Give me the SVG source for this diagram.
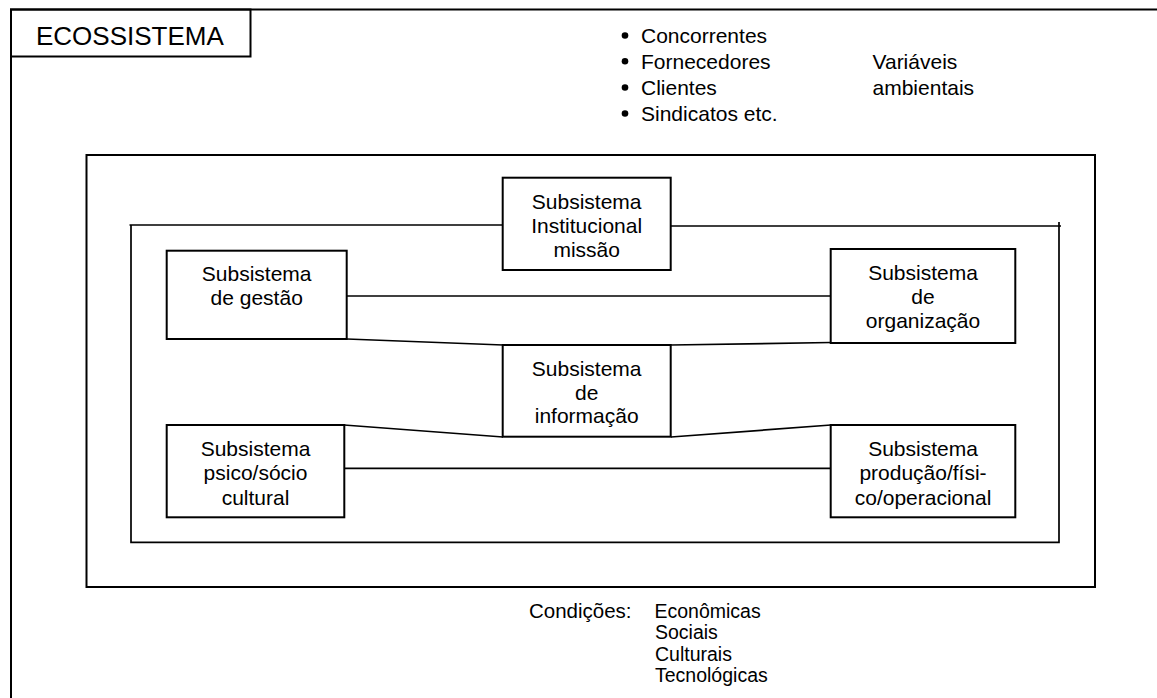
<svg xmlns="http://www.w3.org/2000/svg" width="1157" height="698" viewBox="0 0 1157 698">
<style>
.frame{fill:none;stroke:#000;stroke-width:2}
.box{fill:#fff;stroke:#000;stroke-width:2}
.con{fill:none;stroke:#000;stroke-width:1.7}
text{font-family:"Liberation Sans",Arial,sans-serif;font-size:21px;fill:#000}
.c{text-anchor:middle}
.cd{font-size:19.5px}
</style>
<rect width="1157" height="698" fill="#fff"/>
<g id="ecossistema">
<rect class="frame" x="11" y="9.5" width="1160" height="700"/>
<rect class="frame" x="11" y="9.5" width="239.5" height="47"/>
<text x="36" y="45" style="font-size:26px">ECOSSISTEMA</text>
</g>
<g id="variaveis">
<circle cx="625" cy="35.5" r="3.3"/>
<circle cx="625" cy="61.3" r="3.3"/>
<circle cx="625" cy="87.5" r="3.3"/>
<circle cx="625" cy="113.5" r="3.3"/>
<text x="641" y="42.7">Concorrentes</text>
<text x="641" y="68.5">Fornecedores</text>
<text x="641" y="94.7">Clientes</text>
<text x="641" y="120.7">Sindicatos etc.</text>
<text x="872.5" y="68.5">Variáveis</text>
<text x="872.5" y="94.7">ambientais</text>
</g>
<g id="organizacao-frame">
<rect class="frame" x="86.5" y="155" width="1008.5" height="432"/>
</g>
<g id="connectors">
<path class="con" d="M503,225 H129.5 M131,225 V542.3 H1059 V222 M671,226 H1061"/>
<line class="con" x1="347" y1="296" x2="831" y2="296"/>
<line class="con" x1="347" y1="339" x2="503" y2="345"/>
<line class="con" x1="671" y1="345" x2="831" y2="342.5"/>
<line class="con" x1="344" y1="425" x2="503" y2="437"/>
<line class="con" x1="671" y1="437" x2="831" y2="425"/>
<line class="con" x1="344" y1="468.3" x2="831" y2="468.3"/>
</g>
<g id="institucional">
<rect class="box" x="502.7" y="177.7" width="168" height="92.3"/>
<text class="c" x="586.7" y="209">Subsistema</text>
<text class="c" x="586.7" y="233">Institucional</text>
<text class="c" x="586.7" y="257">missão</text>
</g>
<g id="gestao">
<rect class="box" x="166.7" y="250.7" width="180" height="88.3"/>
<text class="c" x="256.7" y="281">Subsistema</text>
<text class="c" x="256.7" y="305">de gestão</text>
</g>
<g id="organizacao">
<rect class="box" x="830.7" y="249" width="184.6" height="94"/>
<text class="c" x="923" y="279.5">Subsistema</text>
<text class="c" x="923" y="303.5">de</text>
<text class="c" x="923" y="328">organização</text>
</g>
<g id="informacao">
<rect class="box" x="502.7" y="345" width="168" height="91.7"/>
<text class="c" x="586.7" y="376">Subsistema</text>
<text class="c" x="586.7" y="399.5">de</text>
<text class="c" x="586.7" y="423">informação</text>
</g>
<g id="psico">
<rect class="box" x="166.7" y="425" width="177.6" height="92.3"/>
<text class="c" x="255.5" y="456">Subsistema</text>
<text class="c" x="255.5" y="480">psico/sócio</text>
<text class="c" x="255.5" y="504.5">cultural</text>
</g>
<g id="producao">
<rect class="box" x="830.7" y="425" width="184.6" height="92.3"/>
<text class="c" x="923" y="456">Subsistema</text>
<text class="c" x="923" y="480">produção/físi-</text>
<text class="c" x="923" y="504.5">co/operacional</text>
</g>
<g id="condicoes">
<text x="529" y="617.5" style="font-size:20.5px">Condições:</text>
<text class="cd" x="654.5" y="617.5">Econômicas</text>
<text class="cd" x="655" y="639">Sociais</text>
<text class="cd" x="655" y="660.5">Culturais</text>
<text class="cd" x="655" y="682">Tecnológicas</text>
</g>
</svg>
